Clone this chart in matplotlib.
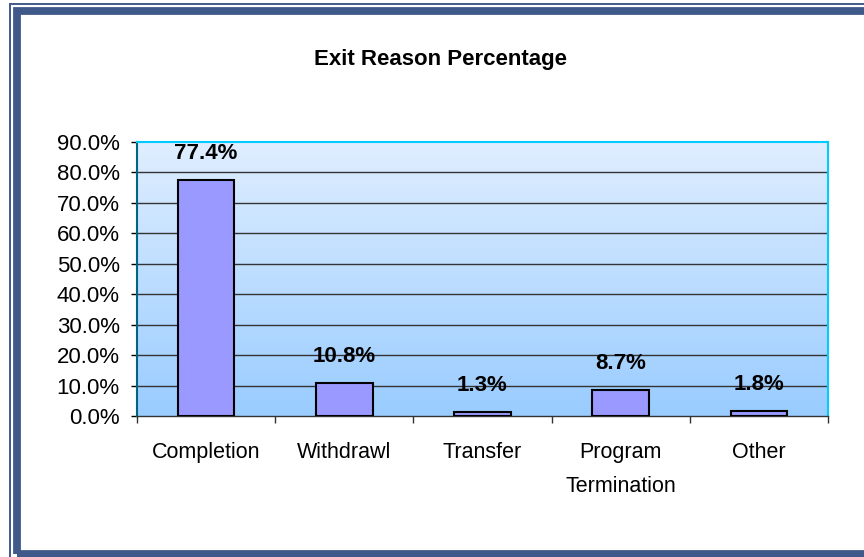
import matplotlib
matplotlib.use("Agg")
import matplotlib.pyplot as plt
import numpy as np
from matplotlib.patches import Rectangle
from matplotlib.colors import LinearSegmentedColormap

categories = ["Completion", "Withdrawl", "Transfer", "Program\nTermination", "Other"]
values = [77.4, 10.8, 1.3, 8.7, 1.8]
yticks = [0, 10, 20, 30, 40, 50, 60, 70, 80, 90]

plt.rcParams['font.family'] = ['Liberation Sans', 'DejaVu Sans']

W, H = 864, 557
fig = plt.figure(figsize=(W/100, H/100), dpi=100)
fig.patch.set_facecolor('white')

frame_col = '#3f5a8a'
def frect(x0, y0, x1, y1, **kw):
    fig.patches.append(Rectangle((x0/W, 1-y1/H), (x1-x0)/W, (y1-y0)/H,
                                 transform=fig.transFigure, **kw))
# outer thin line
frect(9.5, 4, 900, 600, fill=False, edgecolor=frame_col, linewidth=1.4)
# thick inner band
frect(16.5, 11, 900, 553.5, fill=False, edgecolor=frame_col, linewidth=5.6)

ax = fig.add_axes([137/W, 1-416/H, (828-137)/W, (416-142)/H])
x = np.arange(len(categories))
ax.set_xlim(-0.5, len(categories)-0.5)
ax.set_ylim(0, 90)

cmap = LinearSegmentedColormap.from_list('g', ['#99ccff', '#e0eeff'])
grad = np.linspace(0, 1, 256).reshape(-1, 1)
ax.imshow(grad, aspect='auto', cmap=cmap, origin='lower',
          extent=[-0.5, len(categories)-0.5, 0, 90], zorder=0)

for t in yticks[1:-1]:
    ax.axhline(t, color='#333333', linewidth=1.0, zorder=1)

ax.bar(x, values, width=0.41, color='#9999ff', edgecolor='black', linewidth=1.5, zorder=3)

for xi, v in zip(x, values):
    ax.annotate(f"{v:.1f}%", (xi, v), xytext=(0, 19), textcoords='offset points',
                ha='center', va='center', fontsize=16, fontweight='bold', zorder=4)

ax.set_yticks(yticks)
ax.set_yticklabels([f"{t:.1f}%" for t in yticks], fontsize=16)
ax.set_xticks(np.arange(len(categories)+1) - 0.5, minor=False)
ax.set_xticklabels([])
ax.set_xticks(x, minor=True)
ax.set_xticklabels(categories, minor=True, fontsize=15.5, linespacing=1.8)
ax.tick_params(axis='x', which='minor', length=0, pad=19)
ax.tick_params(axis='x', which='major', length=5, width=1, color='#333333', direction='out')
ax.tick_params(axis='y', length=4.5, width=1, direction='out', pad=8)

ax.spines['top'].set_color('#00ccff')
ax.spines['top'].set_linewidth(1.5)
ax.spines['right'].set_color('#00ccff')
ax.spines['right'].set_linewidth(1.5)
ax.spines['left'].set_color('#006680')
ax.spines['left'].set_linewidth(1.5)
ax.spines['bottom'].set_color('#333333')
ax.spines['bottom'].set_linewidth(1.0)

fig.text(441/W, 1-60/H, "Exit Reason Percentage", ha='center', va='center',
         fontsize=16, fontweight='bold')

fig.savefig("out.png", dpi=100)
